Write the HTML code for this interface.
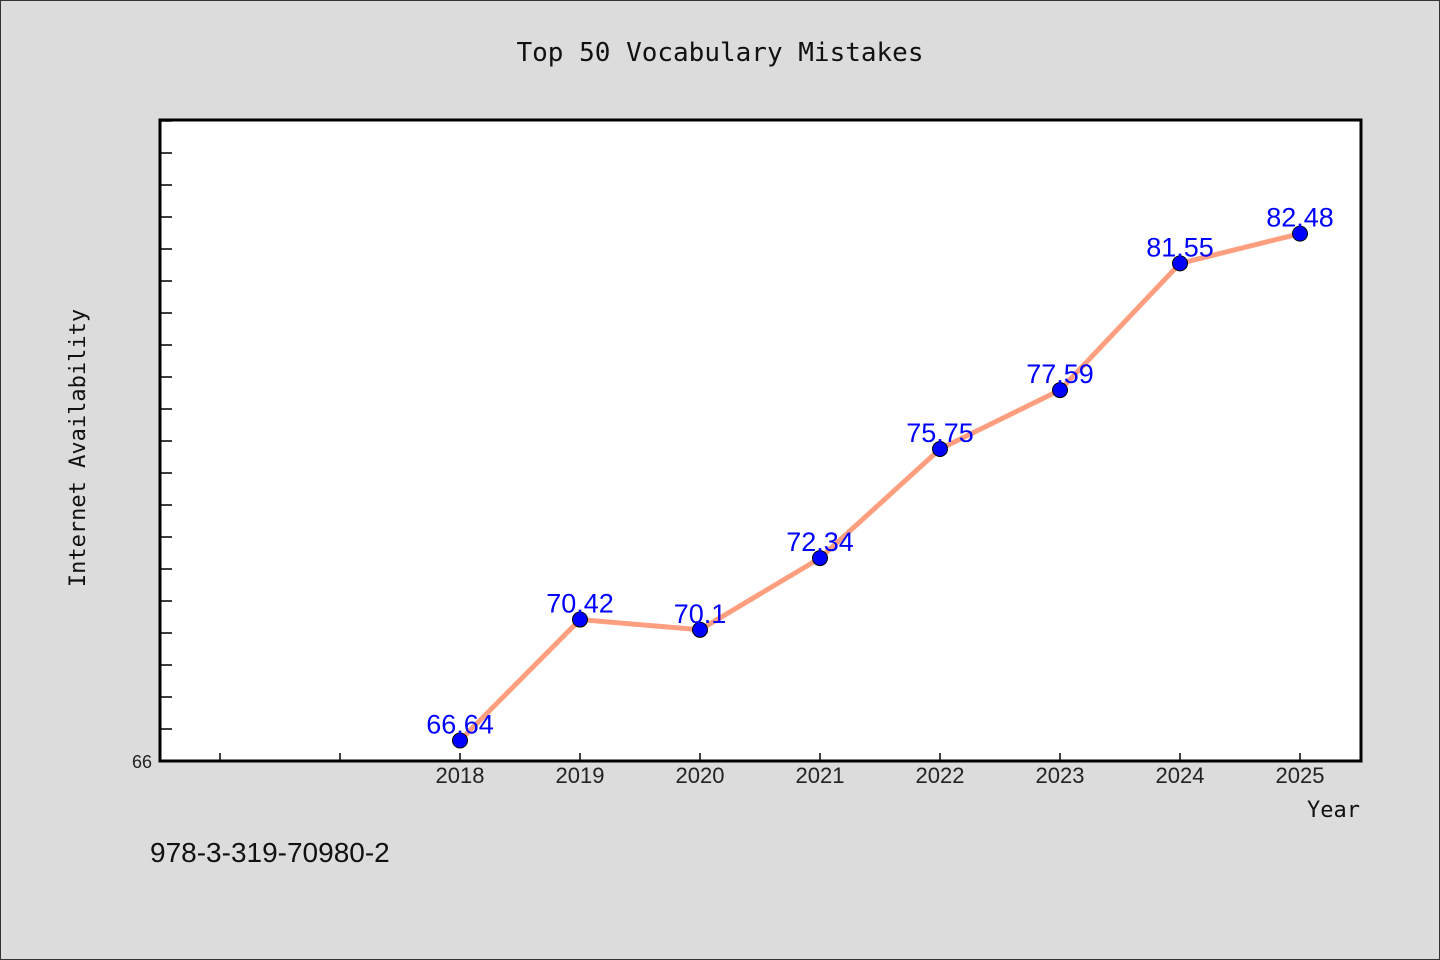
<!DOCTYPE html>
<html><head><meta charset="utf-8"><style>
body{margin:0;background:#dcdcdc;}
svg{display:block;}
</style></head><body>
<svg width="1440" height="960" xmlns="http://www.w3.org/2000/svg" id="chart">
<rect x="0.5" y="0.5" width="1439" height="959" fill="#dcdcdc" stroke="#333"/>
<text x="720" y="61" text-anchor="middle" font-family="DejaVu Sans Mono, Liberation Mono, monospace" font-size="26" fill="#111">Top 50 Vocabulary Mistakes</text>
<rect x="160" y="120" width="1201" height="641" fill="#fff"/>
<g id="ticks"></g>
<g id="series"></g>
<rect x="160" y="120" width="1201" height="641" fill="none" stroke="#000" stroke-width="3"/>
<text x="85" y="448" text-anchor="middle" transform="rotate(-90 85 448)" font-family="DejaVu Sans Mono, Liberation Mono, monospace" font-size="22" fill="#111">Internet Availability</text>
<text x="1360" y="817" text-anchor="end" font-family="DejaVu Sans Mono, Liberation Mono, monospace" font-size="22" fill="#111">Year</text>
<text x="150" y="862" font-family="Liberation Sans, sans-serif" font-size="28" fill="#111">978-3-319-70980-2</text>
</svg>
<script>
const years=[2018,2019,2020,2021,2022,2023,2024,2025];
const values=[66.64,70.42,70.1,72.34,75.75,77.59,81.55,82.48];
const labels=["66.64","70.42","70.1","72.34","75.75","77.59","81.55","82.48"];
const yTickLabels=["66"];
const NS="http://www.w3.org/2000/svg";
const xs=y=>460+(y-2018)*120;
const ys=v=>761-(v-66)*32;
function mk(t,a,p){const e=document.createElementNS(NS,t);for(const k in a)e.setAttribute(k,a[k]);p.appendChild(e);return e;}
const tg=document.getElementById('ticks'),sg=document.getElementById('series');
for(let v=67;v<=86;v++){const l=mk('line',{x1:160,x2:172,y1:ys(v),y2:ys(v),stroke:'#000','stroke-width':1.5},tg);

}
for(let y=2016;y<=2025;y++){const l=mk('line',{x1:xs(y),x2:xs(y),y1:761,y2:753,stroke:'#000','stroke-width':1.5},tg);


if(y>=2018){const t=mk('text',{x:xs(y),y:783,'text-anchor':'middle','font-family':'Liberation Sans, sans-serif','font-size':22,fill:'#222'},tg);t.textContent=y;

}}
yTickLabels.forEach(s=>{const t=mk('text',{x:152,y:ys(+s)+7,'text-anchor':'end','font-family':'Liberation Sans, sans-serif','font-size':18,fill:'#222'},tg);t.textContent=s;

});
const pl=mk('polyline',{points:years.map((y,i)=>xs(y)+','+ys(values[i])).join(' '),fill:'none',stroke:'#ff9f7f','stroke-width':5,'stroke-linejoin':'round'},sg);


years.forEach((y,i)=>{const c=mk('circle',{cx:xs(y),cy:ys(values[i]),r:7.5,fill:'#0000ff',stroke:'#000','stroke-width':1},sg);


const t=mk('text',{x:xs(y),y:ys(values[i])-7,'text-anchor':'middle','font-family':'Liberation Sans, sans-serif','font-size':27,fill:'#0000ff'},sg);t.textContent=labels[i];

});
</script>
</body></html>
